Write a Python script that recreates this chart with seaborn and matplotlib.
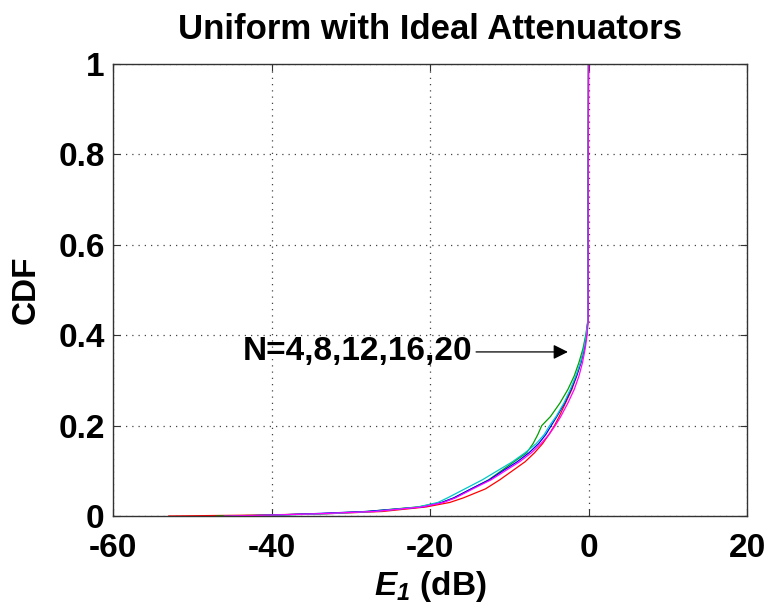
import matplotlib
matplotlib.use("Agg")
import matplotlib.pyplot as plt
import seaborn as sns
import pandas as pd

# ---- data ----
cdf_levels = [0, 0.002, 0.005, 0.01, 0.02, 0.03, 0.04, 0.06, 0.08, 0.10, 0.12, 0.14,
              0.16, 0.18, 0.20, 0.22, 0.25, 0.28, 0.31, 0.34, 0.37, 0.40, 0.43, 1.0]
e1_red = [-53, -42, -33, -26, -20.5, -17.5, -15.8, -13.0, -11.2, -9.6, -8.0, -6.8,
          -5.8, -5.0, -4.3, -3.7, -2.9, -2.1, -1.5, -0.95, -0.55, -0.25, -0.08, 0]
e1_green = [-47, -40, -34, -28, -21.5, -18.5, -17.0, -14.8, -12.6, -11.0, -9.4, -7.8,
            -7.0, -6.4, -5.9, -4.8, -3.6, -2.6, -1.8, -1.2, -0.7, -0.35, -0.1, 0]
e1_blue = [-44, -40, -35, -28, -21.0, -18.5, -17.0, -14.8, -12.5, -10.8, -9.0, -7.5,
           -6.3, -5.4, -4.7, -4.0, -3.0, -2.2, -1.5, -0.95, -0.55, -0.25, -0.08, 0]
e1_cyan = [-45, -39, -33, -27, -21.5, -19.0, -17.8, -15.6, -13.4, -11.5, -9.6, -8.0,
           -6.6, -5.6, -4.9, -4.1, -3.1, -2.3, -1.6, -1.0, -0.6, -0.3, -0.1, 0]
e1_magenta = [-46, -40, -34, -27, -21.0, -18.3, -16.8, -14.6, -12.3, -10.5, -8.7, -7.2,
              -6.0, -5.0, -4.2, -3.5, -2.6, -1.8, -1.2, -0.75, -0.42, -0.18, -0.05, 0]
series_names = ["N=4", "N=8", "N=12", "N=16", "N=20"]
x_ticks = [-60, -40, -20, 0, 20]
y_ticks = [0, 0.2, 0.4, 0.6, 0.8, 1]
y_tick_labels = ["0", "0.2", "0.4", "0.6", "0.8", "1"]

series_values = [e1_red, e1_green, e1_blue, e1_cyan, e1_magenta]
frames = []
for name, vals in zip(series_names, series_values):
    frames.append(pd.DataFrame({"E1": vals, "CDF": cdf_levels, "N": name}))
df = pd.concat(frames, ignore_index=True)

sns.set_theme(style="white")
plt.rcParams["font.family"] = ["Liberation Sans", "DejaVu Sans"]
plt.rcParams["text.color"] = "black"
plt.rcParams["axes.labelcolor"] = "black"
plt.rcParams["mathtext.fontset"] = "custom"
plt.rcParams["mathtext.bfit"] = "Liberation Sans:bold:italic"
plt.rcParams["mathtext.it"] = "Liberation Sans:italic"
plt.rcParams["mathtext.rm"] = "Liberation Sans"

fig = plt.figure(figsize=(7.7, 6.12), dpi=100)
ax = fig.add_axes([113 / 770, 1 - 516 / 612, (747 - 113) / 770, (516 - 64) / 612])

palette = ["#ff0000", "#00a000", "#0000ff", "#00c8c8", "#ff00ff"]
sns.lineplot(data=df, x="E1", y="CDF", hue="N", palette=palette, sort=False,
             estimator=None, linewidth=0.9, legend=False, ax=ax)

ax.set_xlim(-60, 20)
ax.set_ylim(0, 1)
ax.set_xticks(x_ticks)
ax.set_xticklabels([str(t) for t in x_ticks])
ax.set_yticks(y_ticks)
ax.set_yticklabels(y_tick_labels)
ax.grid(True, linestyle=(0, (1, 4)), color="#444444", linewidth=0.9)
ax.set_axisbelow(True)
for sp in ax.spines.values():
    sp.set_visible(True)
    sp.set_color("#333333")
    sp.set_linewidth(1.0)
ax.tick_params(axis="both", which="both", direction="in", length=5, width=0.8,
               colors="#333333", labelcolor="black", labelsize=24,
               top=True, right=True, bottom=True, left=True)
ax.tick_params(axis="x", pad=12)
ax.tick_params(axis="y", pad=6)
for lab in ax.get_xticklabels() + ax.get_yticklabels():
    lab.set_fontweight("bold")

ax.set_xlabel(r"$\mathbfit{E_1}$ (dB)", fontsize=24, fontweight="bold", labelpad=4)
ax.set_ylabel("CDF", fontsize=24, fontweight="bold", labelpad=12)
ax.set_title("Uniform with Ideal Attenuators", fontsize=25, fontweight="bold", pad=18)

ax.annotate("N=4,8,12,16,20", xy=(-2.6, 0.363), xytext=(-14.6, 0.363),
            fontsize=24, fontweight="bold", ha="right", va="center",
            arrowprops=dict(arrowstyle="-|>", color="black", lw=0.9,
                            mutation_scale=22, shrinkA=0, shrinkB=0))

fig.savefig("out.png", dpi=100)
